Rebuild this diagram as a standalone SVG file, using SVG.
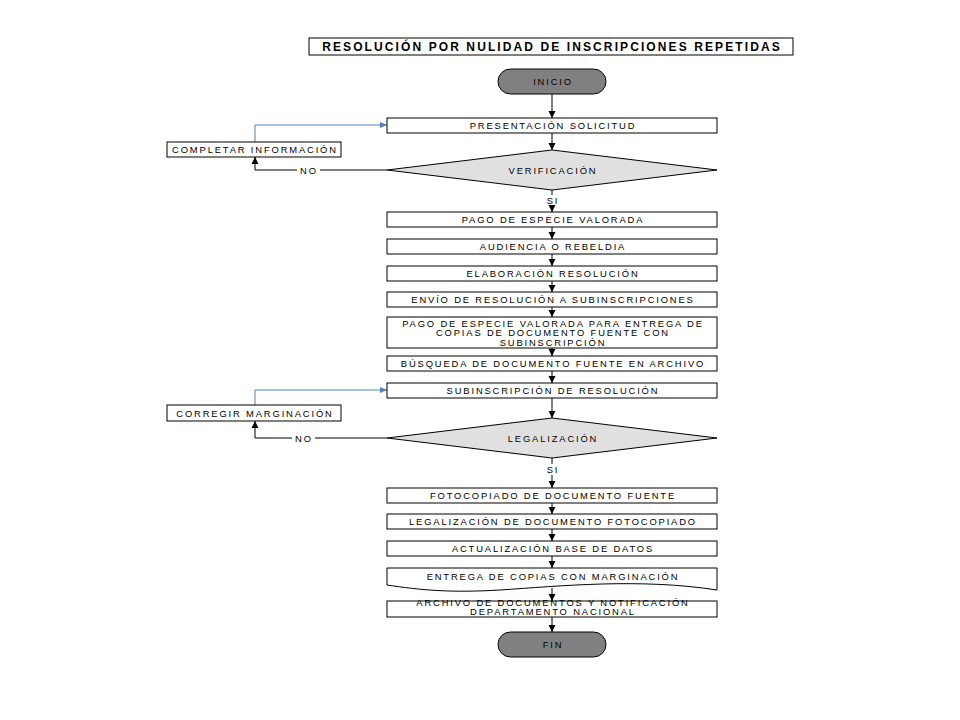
<svg xmlns="http://www.w3.org/2000/svg" width="960" height="720" viewBox="0 0 960 720">
<defs>
<style>
.box{fill:#fff;stroke:#000;stroke-width:1}
.term{fill:#808080;stroke:#000;stroke-width:1}
.dia{fill:#e0e0e0;stroke:#000;stroke-width:1}
.t{font-family:"Liberation Sans",Arial,sans-serif;font-size:9.4px;letter-spacing:1.85px;text-anchor:middle;fill:#000}
.ttl{font-family:"Liberation Sans",Arial,sans-serif;font-size:12px;font-weight:bold;letter-spacing:2.1px;text-anchor:middle;fill:#000}
.c{fill:none;stroke:#000;stroke-width:1}
.b{fill:none;stroke:#4f81bd;stroke-width:1}
</style>
<marker id="ah" markerWidth="8" markerHeight="8" refX="7" refY="4" orient="auto" markerUnits="userSpaceOnUse"><path d="M0,0.5 L7,4 L0,7.5 Z" fill="#000"/></marker>
<marker id="ahb" markerWidth="8" markerHeight="8" refX="7" refY="4" orient="auto" markerUnits="userSpaceOnUse"><path d="M0,1 L7,4 L0,7 Z" fill="#4f81bd"/></marker>
</defs>
<rect width="960" height="720" fill="#fff"/>

<g id="title">
<rect x="309" y="38" width="484" height="17" class="box"/>
<text x="552" y="51" class="ttl">RESOLUCIÓN POR NULIDAD DE INSCRIPCIONES REPETIDAS</text>
</g>

<g id="connectors">
<path d="M552,94 V118" class="c" marker-end="url(#ah)"/>
<path d="M552,133 V150" class="c" marker-end="url(#ah)"/>
<path d="M552,190 V195" class="c"/>
<path d="M552,205 V212" class="c" marker-end="url(#ah)"/>
<path d="M552,227 V239" class="c" marker-end="url(#ah)"/>
<path d="M552,254 V266" class="c" marker-end="url(#ah)"/>
<path d="M552,281 V292" class="c" marker-end="url(#ah)"/>
<path d="M552,307 V317" class="c" marker-end="url(#ah)"/>
<path d="M552,348 V356" class="c" marker-end="url(#ah)"/>
<path d="M552,371 V383" class="c" marker-end="url(#ah)"/>
<path d="M552,398 V418" class="c" marker-end="url(#ah)"/>
<path d="M552,458 V464" class="c"/>
<path d="M552,475 V488" class="c" marker-end="url(#ah)"/>
<path d="M552,503 V514" class="c" marker-end="url(#ah)"/>
<path d="M552,529 V541" class="c" marker-end="url(#ah)"/>
<path d="M552,556 V568" class="c" marker-end="url(#ah)"/>
<path d="M552,588 V601" class="c" marker-end="url(#ah)"/>
<path d="M552,617 V632" class="c" marker-end="url(#ah)"/>
<path d="M387,170 H320" class="c"/>
<path d="M297,170 H255 V157" class="c" marker-end="url(#ah)"/>
<path d="M255,142 V125 H387" class="b" marker-end="url(#ahb)"/>
<path d="M387,438 H315" class="c"/>
<path d="M292,438 H255 V421" class="c" marker-end="url(#ah)"/>
<path d="M255,405 V390 H387" class="b" marker-end="url(#ahb)"/>
<text x="309" y="173.5" class="t">NO</text>
<text x="304" y="441.5" class="t">NO</text>
<text x="553" y="204" class="t">SI</text>
<text x="553" y="473" class="t">SI</text>
</g>

<g id="inicio">
<rect x="498" y="69" width="108" height="25" rx="12.5" class="term"/>
<text x="553" y="84.5" class="t">INICIO</text>
</g>
<g id="presentacion">
<rect x="387" y="118" width="330" height="15" class="box"/>
<text x="553" y="129" class="t">PRESENTACIÓN SOLICITUD</text>
</g>
<g id="completar">
<rect x="167" y="142" width="174" height="15" class="box"/>
<text x="255" y="153" class="t">COMPLETAR INFORMACIÓN</text>
</g>
<g id="verificacion">
<polygon points="387,170 552,150 717,170 552,190" class="dia"/>
<text x="553" y="173.5" class="t">VERIFICACIÓN</text>
</g>
<g id="pago">
<rect x="387" y="212" width="330" height="15" class="box"/>
<text x="553" y="223" class="t">PAGO DE ESPECIE VALORADA</text>
</g>
<g id="audiencia">
<rect x="387" y="239" width="330" height="15" class="box"/>
<text x="553" y="250" class="t">AUDIENCIA O REBELDIA</text>
</g>
<g id="elaboracion">
<rect x="387" y="266" width="330" height="15" class="box"/>
<text x="553" y="277" class="t">ELABORACIÓN RESOLUCIÓN</text>
</g>
<g id="envio">
<rect x="387" y="292" width="330" height="15" class="box"/>
<text x="553" y="303" class="t">ENVÍO DE RESOLUCIÓN A SUBINSCRIPCIONES</text>
</g>
<g id="pago2">
<rect x="387" y="317" width="330" height="31" class="box"/>
<text x="553" y="326.5" class="t">PAGO DE ESPECIE VALORADA PARA ENTREGA DE</text>
<text x="553" y="336" class="t">COPIAS DE DOCUMENTO FUENTE CON</text>
<text x="553" y="345.5" class="t">SUBINSCRIPCIÓN</text>
</g>
<g id="busqueda">
<rect x="387" y="356" width="330" height="15" class="box"/>
<text x="553" y="367" class="t">BÚSQUEDA DE DOCUMENTO FUENTE EN ARCHIVO</text>
</g>
<g id="subinscripcion">
<rect x="387" y="383" width="330" height="15" class="box"/>
<text x="553" y="394" class="t">SUBINSCRIPCIÓN DE RESOLUCIÓN</text>
</g>
<g id="corregir">
<rect x="167" y="405" width="174" height="16" class="box"/>
<text x="255" y="416.5" class="t">CORREGIR MARGINACIÓN</text>
</g>
<g id="legalizacion">
<polygon points="387,438 552,418 717,438 552,458" class="dia"/>
<text x="553" y="441.5" class="t">LEGALIZACIÓN</text>
</g>
<g id="fotocopiado">
<rect x="387" y="488" width="330" height="15" class="box"/>
<text x="553" y="499" class="t">FOTOCOPIADO DE DOCUMENTO FUENTE</text>
</g>
<g id="legalizaciondoc">
<rect x="387" y="514" width="330" height="15" class="box"/>
<text x="553" y="525" class="t">LEGALIZACIÓN DE DOCUMENTO FOTOCOPIADO</text>
</g>
<g id="actualizacion">
<rect x="387" y="541" width="330" height="15" class="box"/>
<text x="553" y="552" class="t">ACTUALIZACIÓN BASE DE DATOS</text>
</g>
<g id="entrega">
<path d="M387,568 H717 V590 C640,578 560,586 500,590 C450,593 420,590 387,585 Z" class="box"/>
<text x="553" y="579.5" class="t">ENTREGA DE COPIAS CON MARGINACIÓN</text>
</g>
<g id="archivo">
<rect x="387" y="601" width="330" height="16" class="box"/>
<text x="553" y="605.5" class="t">ARCHIVO DE DOCUMENTOS Y NOTIFICACIÓN</text>
<text x="553" y="615" class="t">DEPARTAMENTO NACIONAL</text>
</g>
<g id="fin">
<rect x="498" y="632" width="108" height="25" rx="12.5" class="term"/>
<text x="553" y="647.5" class="t">FIN</text>
</g>
</svg>
